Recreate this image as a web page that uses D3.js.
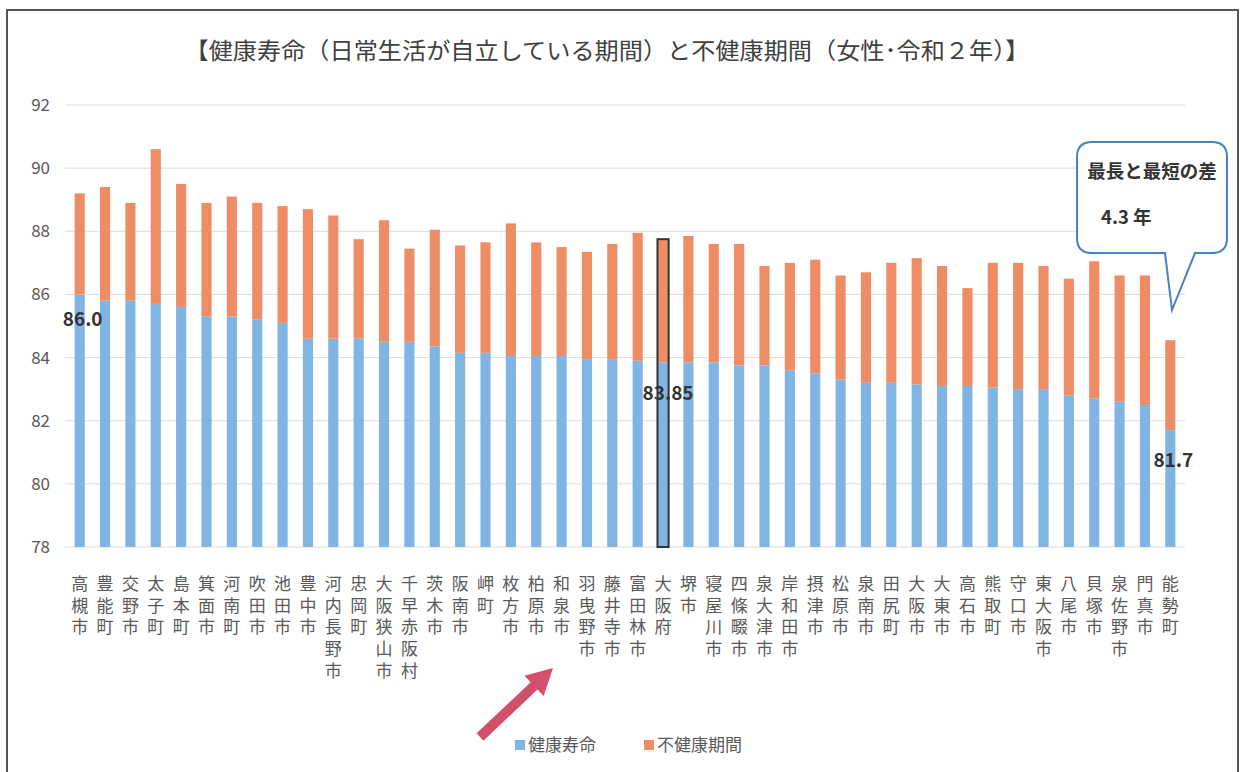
<!DOCTYPE html>
<html>
<head>
<meta charset="utf-8">
<script src="https://cdn.jsdelivr.net/npm/d3@7"></script>
<style>
  body { margin: 0; background: #fff; }
  svg { font-family: "Noto Sans CJK JP", "Noto Sans", sans-serif; }
</style>
</head>
<body>
<div id="chart"></div>
<script>
// cities, left to right
const cities = ["高槻市","豊能町","交野市","太子町","島本町","箕面市","河南町","吹田市","池田市","豊中市",
  "河内長野市","忠岡町","大阪狭山市","千早赤阪村","茨木市","阪南市","岬町","枚方市","柏原市","和泉市",
  "羽曳野市","藤井寺市","富田林市","大阪府","堺市","寝屋川市","四條畷市","泉大津市","岸和田市","摂津市",
  "松原市","泉南市","田尻町","大阪市","大東市","高石市","熊取町","守口市","東大阪市","八尾市",
  "貝塚市","泉佐野市","門真市","能勢町"];

// 健康寿命 (years)
const healthy = [86.0,85.8,85.8,85.7,85.6,85.3,85.3,85.2,85.1,84.6,
  84.6,84.6,84.5,84.5,84.35,84.15,84.15,84.05,84.05,84.05,
  83.95,83.95,83.9,83.85,83.85,83.85,83.75,83.75,83.6,83.5,
  83.3,83.2,83.2,83.15,83.1,83.1,83.05,83.0,83.0,82.8,
  82.7,82.6,82.5,81.7];

// 不健康期間 (years)
const unhealthy = [3.2,3.6,3.1,4.9,3.9,3.6,3.8,3.7,3.7,4.1,
  3.9,3.15,3.85,2.95,3.7,3.4,3.5,4.2,3.6,3.45,
  3.4,3.65,4.05,3.9,4.0,3.75,3.85,3.15,3.4,3.6,
  3.3,3.5,3.8,4.0,3.8,3.1,3.95,4.0,3.9,3.7,
  4.35,4.0,4.1,2.85];

const yTicks = [78, 80, 82, 84, 86, 88, 90, 92];
const seriesNames = ["健康寿命", "不健康期間"];
const colors = ["#80b4e2", "#ee8c66"];

const W = 1245, H = 772;
const svg = d3.select("#chart").append("svg")
  .attr("width", W).attr("height", H);

// outer frame
svg.append("rect")
  .attr("x", 7).attr("y", 10)
  .attr("width", 1231).attr("height", 800)
  .attr("fill", "none").attr("stroke", "#555").attr("stroke-width", 2);

// title
svg.append("text")
  .attr("x", 607).attr("y", 59)
  .attr("text-anchor", "middle")
  .attr("font-size", 23)
  .attr("textLength", 845)
  .attr("lengthAdjust", "spacingAndGlyphs")
  .attr("fill", "#404040")
  .text("【健康寿命（日常生活が自立している期間）と不健康期間（女性･令和２年）】");

const x = d3.scaleBand()
  .domain(cities)
  .range([67, 1183])
  .paddingInner(0.6)
  .paddingOuter(0.3);

const y = d3.scaleLinear()
  .domain([78, 92])
  .range([547, 105]);

// gridlines + y labels
const yAxis = svg.append("g").attr("class", "yAxis");
yAxis.selectAll("line")
  .data(yTicks)
  .enter().append("line")
  .attr("x1", 65).attr("x2", 1185)
  .attr("y1", d => y(d)).attr("y2", d => y(d))
  .attr("stroke", "#dcdcdc").attr("stroke-width", 1);

yAxis.selectAll("text")
  .data(yTicks)
  .enter().append("text")
  .attr("x", 50).attr("y", d => y(d))
  .attr("dy", "0.35em")
  .attr("text-anchor", "end")
  .attr("font-size", 17)
  .attr("fill", "#595959")
  .text(d => d);

// stacked bars
const rows = cities.map((c, i) => ({ city: c, healthy: healthy[i], unhealthy: unhealthy[i] }));

svg.append("g").selectAll("rect")
  .data(rows)
  .enter().append("rect")
  .attr("x", d => x(d.city))
  .attr("width", x.bandwidth())
  .attr("y", d => y(d.healthy))
  .attr("height", d => y(78) - y(d.healthy))
  .style("fill", colors[0]);

svg.append("g").selectAll("rect")
  .data(rows)
  .enter().append("rect")
  .attr("x", d => x(d.city))
  .attr("width", x.bandwidth())
  .attr("y", d => y(d.healthy + d.unhealthy))
  .attr("height", d => y(d.healthy) - y(d.healthy + d.unhealthy))
  .style("fill", colors[1]);

// outline on 大阪府
const osaka = rows.find(d => d.city === "大阪府");
svg.append("rect")
  .attr("x", x(osaka.city) - 0.5)
  .attr("width", x.bandwidth() + 1)
  .attr("y", y(osaka.healthy + osaka.unhealthy))
  .attr("height", y(78) - y(osaka.healthy + osaka.unhealthy))
  .attr("fill", "none").attr("stroke", "#333").attr("stroke-width", 2);

// value labels
const valueLabels = [
  { city: "高槻市", text: "86.0", dx: 3, dy: 25 },
  { city: "大阪府", text: "83.85", dx: 5, dy: 31 },
  { city: "能勢町", text: "81.7", dx: 3, dy: 30 }
];
svg.append("g").selectAll("text")
  .data(valueLabels)
  .enter().append("text")
  .attr("x", d => x(d.city) + x.bandwidth() / 2 + d.dx)
  .attr("y", d => y(healthy[cities.indexOf(d.city)]) + d.dy)
  .attr("dy", "0.35em")
  .attr("text-anchor", "middle")
  .attr("font-size", 19)
  .attr("font-weight", "bold")
  .attr("fill", "#333")
  .text(d => d.text);

// vertical city labels (one text per city, written top to bottom)
svg.append("g").attr("class", "xLabels")
  .selectAll("text")
  .data(rows)
  .enter().append("text")
  .attr("x", d => x(d.city) + x.bandwidth() / 2)
  .attr("y", 575)
  .style("writing-mode", "vertical-rl")
  .style("text-orientation", "upright")
  .style("letter-spacing", "4.7px")
  .attr("font-size", 17)
  .attr("fill", "#595959")
  .text(d => d.city);

// legend
const legend = svg.append("g");
const legX = [515, 644];
seriesNames.forEach((name, i) => {
  legend.append("rect")
    .attr("x", legX[i]).attr("y", 740)
    .attr("width", 10).attr("height", 10)
    .attr("fill", colors[i]);
  legend.append("text")
    .attr("x", legX[i] + 13).attr("y", 745)
    .attr("dy", "0.35em")
    .attr("font-size", 17)
    .attr("fill", "#595959")
    .text(name);
});

// red arrow pointing at 和泉市
const ax0 = 480, ay0 = 737, ax1 = 553, ay1 = 668;
const ang = Math.atan2(ay1 - ay0, ax1 - ax0);
const len = Math.hypot(ax1 - ax0, ay1 - ay0);
const arrow = svg.append("g")
  .attr("transform", `translate(${ax0},${ay0}) rotate(${ang * 180 / Math.PI})`);
arrow.append("path")
  .attr("d", `M0,-5 L${len - 26},-5 L${len - 26},-14 L${len},0 L${len - 26},14 L${len - 26},5 L0,5 Z`)
  .attr("fill", "#d4506a");

// callout
const call = svg.append("g");
call.append("path")
  .attr("d", "M1092,142 L1212,142 Q1227,142 1227,157 L1227,238 Q1227,253 1212,253 L1195,253 L1172,310 L1165,253 L1092,253 Q1077,253 1077,238 L1077,157 Q1077,142 1092,142 Z")
  .attr("fill", "#fff")
  .attr("stroke", "#4682c3").attr("stroke-width", 2);
call.append("text")
  .attr("x", 1152).attr("y", 172)
  .attr("dy", "0.35em")
  .attr("text-anchor", "middle")
  .attr("font-size", 18.5).attr("font-weight", "bold")
  .attr("fill", "#333")
  .text("最長と最短の差");
call.append("text")
  .attr("x", 1101).attr("y", 218)
  .attr("dy", "0.35em")
  .attr("font-size", 18.5).attr("font-weight", "bold")
  .attr("fill", "#333")
  .text("4.3 年");
</script>
</body>
</html>
